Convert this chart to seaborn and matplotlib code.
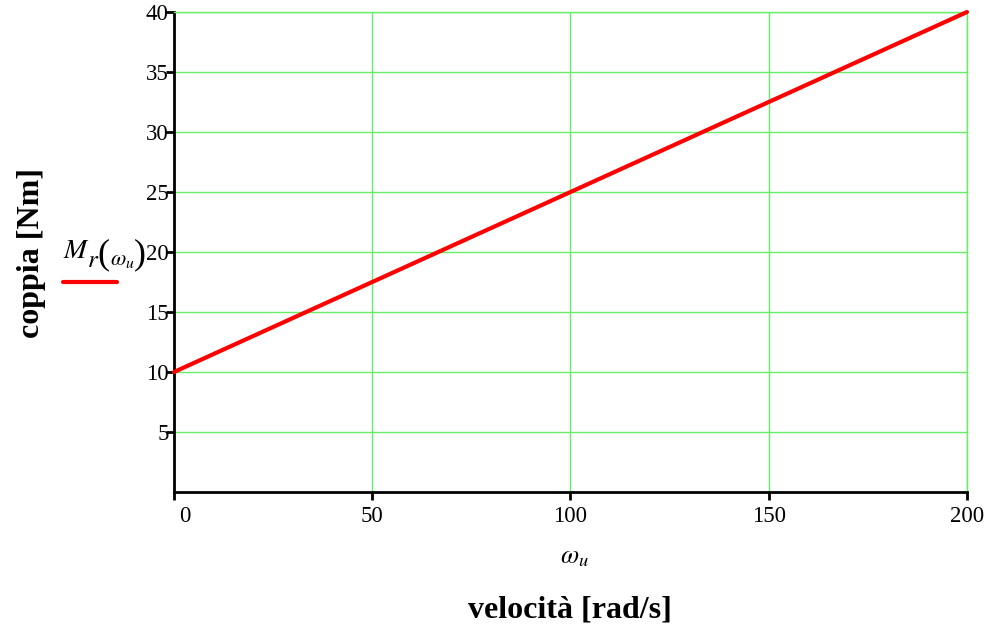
import matplotlib
matplotlib.use("Agg")
import matplotlib.pyplot as plt
import matplotlib.transforms as mtransforms
import seaborn as sns
import pandas as pd

# Load torque as a function of output speed
omega_u = [0, 200]
torque = [10, 40]
x_ticks = [0, 50, 100, 150, 200]
y_ticks = [5, 10, 15, 20, 25, 30, 35, 40]

sns.set_style("white")
plt.rcParams["font.family"] = ["Liberation Serif", "DejaVu Serif"]
plt.rcParams["mathtext.fontset"] = "stix"
plt.rcParams["text.color"] = "black"

df = pd.DataFrame({"omega": omega_u, "M": torque})

W, H = 995, 634
fig = plt.figure(figsize=(W / 100, H / 100), dpi=100)
ax = fig.add_axes([174 / W, 1 - 492 / H, 793 / W, 480 / H])

sns.lineplot(data=df, x="omega", y="M", ax=ax, color="#ff0000", linewidth=3,
             zorder=5, clip_on=False)

ax.set_xlim(0, 200)
ax.set_ylim(0, 40)
ax.set_xticks(x_ticks)
ax.set_yticks(y_ticks)
ax.set_xticklabels([str(v) for v in x_ticks])
ax.set_yticklabels([str(v) for v in y_ticks])

ax.grid(True, color="#66ee66", linewidth=1.0)
ax.set_axisbelow(True)

for side in ("top", "right"):
    ax.spines[side].set_color("#66ee66")
    ax.spines[side].set_linewidth(1.0)
for side in ("left", "bottom"):
    ax.spines[side].set_color("black")
    ax.spines[side].set_linewidth(2.0)
    ax.spines[side].set_visible(True)

ax.tick_params(axis="both", which="major", bottom=True, left=True,
               direction="out", length=6, width=2,
               color="black", labelsize=16.5, labelcolor="black")
ax.tick_params(axis="y", pad=-2)
ax.tick_params(axis="x", pad=4)

# Nudge the "0" label off the corner
xlabels = ax.get_xticklabels()
xlabels[0].set_transform(xlabels[0].get_transform() +
                         mtransforms.ScaledTranslation(11 / 100, 0, fig.dpi_scale_trans))

ax.set_xlabel("")
ax.set_ylabel("")


def put(px, py, s, **kw):
    """Place text at pixel coordinates measured from the top-left corner."""
    return fig.text(px / W, 1 - py / H, s, **kw)


# Axis expressions and titles
put(574, 558, r"$\omega_u$", fontsize=19, ha="center", va="center")
put(570, 610, "velocità [rad/s]", fontsize=23, fontweight="bold",
    ha="center", va="center")
put(32, 253, "coppia [Nm]", fontsize=23, fontweight="bold", rotation=90,
    ha="center", va="center")

# Trace legend: M_r(omega_u) with tall brackets, red sample line below
put(63, 258, r"$M$", fontsize=20, ha="left", va="baseline")
put(87, 267, r"$r$", fontsize=18, ha="left", va="baseline")
put(97, 263, "(", fontsize=26, ha="left", va="baseline")
put(110, 265, r"$\omega_u$", fontsize=16, ha="left", va="baseline")
put(134, 263, ")", fontsize=26, ha="left", va="baseline")
fig.add_artist(plt.Line2D([63 / W, 117 / W], [1 - 282 / H, 1 - 282 / H],
                          color="#ff0000", linewidth=3, transform=fig.transFigure))

fig.savefig("out.png", dpi=100)
